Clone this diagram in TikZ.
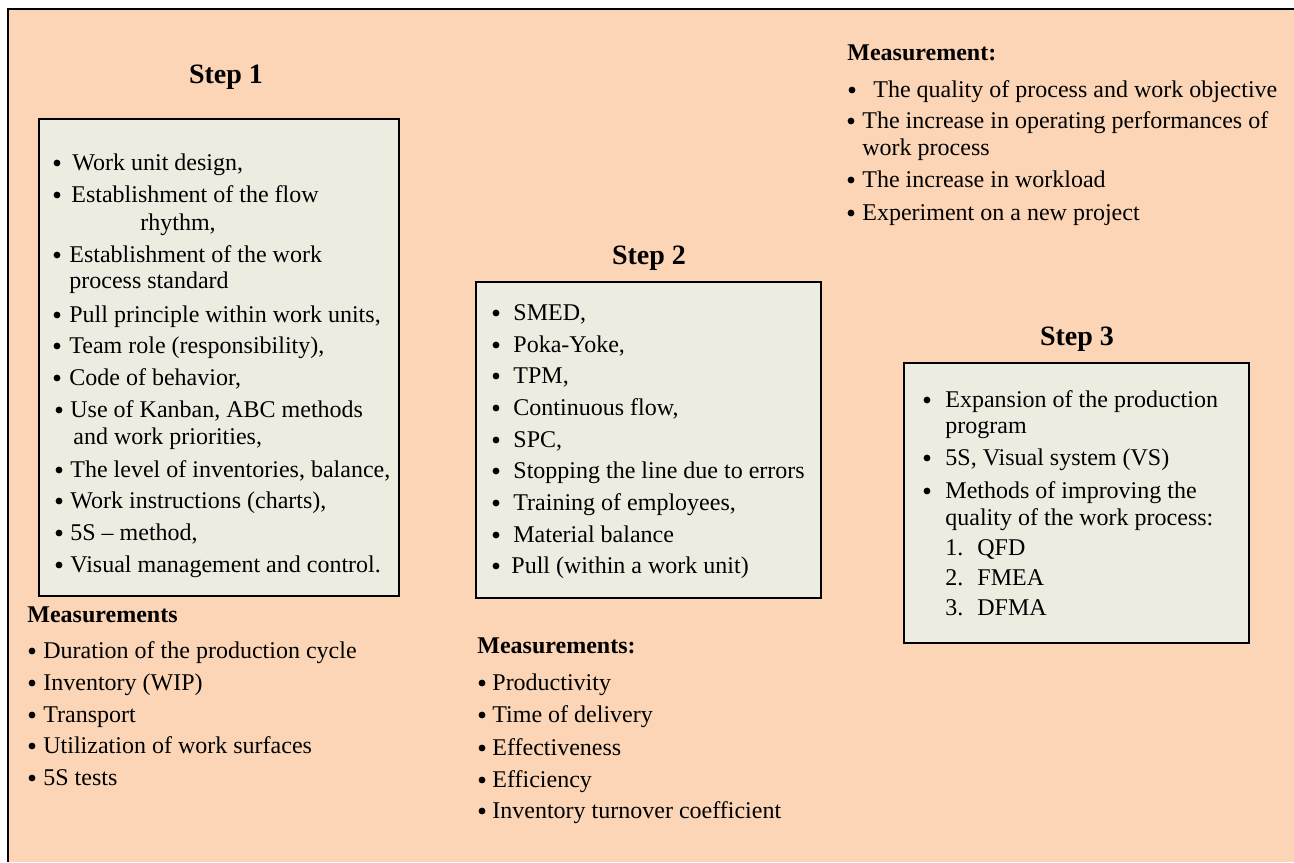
\documentclass[tikz,border=0pt]{standalone}
\usepackage{fontspec}
\setmainfont{Liberation Serif}
\usetikzlibrary{fit}
\definecolor{peach}{HTML}{FBD5B5}
\definecolor{boxfill}{HTML}{EEECE1}
\tikzset{
  box/.style={draw=black, line width=1.3pt, fill=boxfill, inner sep=0pt},
  txt/.style={anchor=base west, inner sep=0pt, font=\fontsize{12}{14}\selectfont},
  dot/.style={circle, fill=black, inner sep=0pt, minimum size=3.4pt},
  ttl/.style={anchor=base, inner sep=0pt, font=\fontsize{14}{16}\selectfont\bfseries},
  hdr/.style={anchor=base west, inner sep=0pt, font=\fontsize{12}{14}\selectfont\bfseries},
}
\begin{document}
\begin{tikzpicture}[x=0.5pt,y=-0.5pt]
\useasboundingbox (0,0) rectangle (1294,862);
\fill[peach] (8,9) rectangle (1294,862);
\draw[line width=1pt] (8,862) -- (8,9) -- (1294,9);
% boxes
\node[box, fit={(39,119)(399,596)}] (box1) {};
\node[box, fit={(476,282)(821,598)}] (box2) {};
\node[box, fit={(904,363)(1249,643)}] (box3) {};
% titles
\node[ttl] (t1) at (226,83) {Step 1};
\node[ttl] (t2) at (649,264) {Step 2};
\node[ttl] (t3) at (1077,345) {Step 3};
% Step 1 items
\foreach \bx/\tx/\y/\t [count=\i] in {
  57/72/170/{Work unit design,},
  57/71/202/{Establishment of the flow},
  57/69/262/{Establishment of the work},
  57/69/322/{Pull principle within work units,},
  57/69/353/{Team role (responsibility),},
  57/69/385/{Code of behavior,},
  59/70/417/{Use of Kanban, ABC methods},
  59/70/477/{The level of inventories, balance,},
  59/70/508/{Work instructions (charts),},
  59/70/540/{5S -- method,},
  59/70/572/{Visual management and control.}} {
  \node[dot] (sa\i) at (\bx,\y-7) {};
  \node[txt] (sat\i) at (\tx,\y) {\t};
}
\node[txt] (sac1) at (140,230) {rhythm,};
\node[txt] (sac2) at (69,288) {process standard};
\node[txt] (sac3) at (73,444) {and work priorities,};
% Step 1 measurements
\node[hdr] (m1) at (27,622) {Measurements};
\foreach \y/\t [count=\i] in {
  658/{Duration of the production cycle},
  690/{Inventory (WIP)},
  722/{Transport},
  753/{Utilization of work surfaces},
  785/{5S tests}} {
  \node[dot] (ma\i) at (32,\y-7) {};
  \node[txt] (mat\i) at (43,\y) {\t};
}
% Step 2 items
\foreach \tx/\y/\t [count=\i] in {
  513/320/{SMED,},
  513/352/{Poka-Yoke,},
  513/383/{TPM,},
  513/415/{Continuous flow,},
  513/447/{SPC,},
  513/478/{Stopping the line due to errors},
  513/510/{Training of employees,},
  513/542/{Material balance},
  511/573/{Pull (within a work unit)}} {
  \node[dot] (sb\i) at (496,\y-7) {};
  \node[txt] (sbt\i) at (\tx,\y) {\t};
}
% Step 2 measurements
\node[hdr] (m2) at (477,653) {Measurements:};
\foreach \y/\t [count=\i] in {
  690/{Productivity},
  722/{Time of delivery},
  755/{Effectiveness},
  787/{Efficiency},
  818/{Inventory turnover coefficient}} {
  \node[dot] (mb\i) at (482,\y-7) {};
  \node[txt] (mbt\i) at (492,\y) {\t};
}
% Top right measurement
\node[hdr] (m3) at (847,60) {Measurement:};
\foreach \bx/\tx/\y/\t [count=\i] in {
  852/873/97/{The quality of process and work objective},
  851/862/128/{The increase in operating performances of},
  851/862/187/{The increase in workload},
  851/862/220/{Experiment on a new project}} {
  \node[dot] (mc\i) at (\bx,\y-7) {};
  \node[txt] (mct\i) at (\tx,\y) {\t};
}
\node[txt] (mcc) at (862,155) {work process};
% Step 3 items
\foreach \y/\t [count=\i] in {
  407/{Expansion of the production},
  465/{5S, Visual system (VS)},
  498/{Methods of improving the}} {
  \node[dot] (sc\i) at (927,\y-7) {};
  \node[txt] (sct\i) at (945,\y) {\t};
}
\node[txt] (scc1) at (945,433) {program};
\node[txt] (scc2) at (945,525) {quality of the work process:};
\foreach \y/\t [count=\i] in {555/QFD, 585/FMEA, 615/DFMA} {
  \node[txt] (scn\i) at (945,\y) {\i.};
  \node[txt] (scm\i) at (977,\y) {\t};
}
\end{tikzpicture}
\end{document}
